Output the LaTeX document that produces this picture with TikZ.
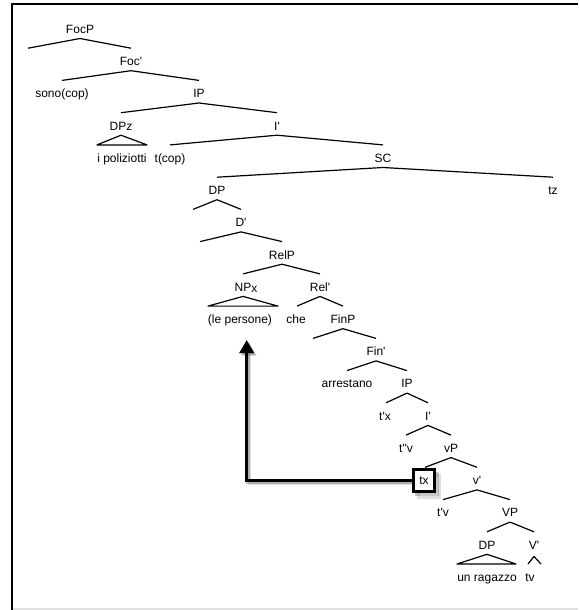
\documentclass[tikz,border=0pt]{standalone}
\usepackage{fontspec}
\setmainfont{Liberation Sans}
\usetikzlibrary{arrows.meta}
\begin{document}
\begin{tikzpicture}[x=1pt,y=-1pt,
  lbl/.style={anchor=base,inner sep=0pt,font=\fontsize{12}{14}\selectfont},
  br/.style={line width=1.2pt,line join=round},
  tracebox/.style={lbl,anchor=center,draw,line width=3pt,minimum width=20.5pt,minimum height=21.5pt},
  mv/.style={line width=3.5pt,-{Triangle[width=14pt,length=13pt]}},
  shadowA/.style={draw=black,opacity=.22,transform canvas={shift={(1.5pt,-1.8pt)}}},
  shadowB/.style={draw=black,opacity=.12,transform canvas={shift={(2.6pt,-3pt)}}}]
\useasboundingbox (0,0) rectangle (578,610);
\fill[white] (0,0) rectangle (578,610);
% frame
\draw[line width=2.4pt] (11,4) -- (578,4);
\draw[line width=2pt] (12,3) -- (12,610);
\draw[line width=1.5pt,black!12] (13,609) -- (578,609);

% labels (baseline = level centre + 4.3)
\node[lbl] (focp)     at (80,33.3)   {FocP};
\node[lbl] (focbar)   at (131,65.5)  {Foc\textquotesingle};
\node[lbl] (sono)     at (62,97.8)   {sono(cop)};
\node[lbl] (ipA)      at (199,97.8)  {IP};
\node[lbl] (dpz)      at (121,130)   {DPz};
\node[lbl] (ibarA)    at (277,130)   {I\textquotesingle};
\node[lbl] (poliz)    at (122,162.3) {i poliziotti};
\node[lbl] (tcop)     at (170,162.3) {t(cop)};
\node[lbl] (sc)       at (383,162.3) {SC};
\node[lbl] (dpA)      at (217,194.5) {DP};
\node[lbl] (tz)       at (553,194.5) {tz};
\node[lbl] (dbar)     at (241,226.7) {D\textquotesingle};
\node[lbl] (relp)     at (282,259)   {RelP};
\node[lbl] (npx)      at (246,291.2) {NP\raisebox{-1.5pt}{x}};
\node[lbl] (relbar)   at (320,291.2) {Rel\textquotesingle};
\node[lbl] (persone)  at (240,323.5) {(le persone)};
\node[lbl] (che)      at (296,323.5) {che};
\node[lbl] (finp)     at (343,323.5) {FinP};
\node[lbl] (finbar)   at (376,355.7) {Fin\textquotesingle};
\node[lbl] (arrest)   at (347,387.9) {arrestano};
\node[lbl] (ipB)      at (407,387.9) {IP};
\node[lbl] (tpx)      at (385,420.2) {t\textquotesingle x};
\node[lbl] (ibarB)    at (428,420.2) {I\textquotesingle};
\node[lbl] (tppv)     at (406,452.4) {t\textquotesingle\textquotesingle v};
\node[lbl] (vp)       at (451,452.4) {vP};
\node[lbl] (vbar)     at (477,484.7) {v\textquotesingle};
\node[lbl] (tpv)      at (443,516.9) {t\textquotesingle v};
\node[lbl] (VP)       at (510,516.9) {VP};
\node[lbl] (dpB)      at (487,549.1) {DP};
\node[lbl] (Vbar)     at (534,549.1) {V\textquotesingle};
\node[lbl] (ragazzo)  at (487,581.4) {un ragazzo};
\node[lbl] (tv)       at (530,581.4) {tv};

% branches
\draw[br] (28,48.2)  -- (80,38.5)   -- (131,48.2);
\draw[br] (62,80.4)  -- (131,70.7)  -- (199,80.4);
\draw[br] (121,112.7)-- (199,103)   -- (277,112.7);
\draw[br] (97,144.9) -- (121,135.2) -- (147,144.9) -- cycle;
\draw[br] (170,144.9)-- (277,135.2) -- (383,144.9);
\draw[br] (217,177.2)-- (383,167.5) -- (553,177.2);
\draw[br] (193,209.4)-- (217,199.7) -- (241,209.4);
\draw[br] (200,241.6)-- (241,231.9) -- (282,241.6);
\draw[br] (243,273.9)-- (282,264.2) -- (320,273.9);
\draw[br] (208,306.1)-- (243,296.4) -- (278,306.1) -- cycle;
\draw[br] (297,306.1)-- (320,296.4) -- (343,306.1);
\draw[br] (313,338.4)-- (343,328.7) -- (376,338.4);
\draw[br] (347,370.6)-- (376,360.9) -- (407,370.6);
\draw[br] (386,402.8)-- (407,393.1) -- (428,402.8);
\draw[br] (406,435.1)-- (428,425.4) -- (451,435.1);
\draw[br] (425,467.3)-- (451,457.6) -- (477,467.3);
\draw[br] (443,499.6)-- (477,489.9) -- (510,499.6);
\draw[br] (487,531.8)-- (510,522.1) -- (534,531.8);
\draw[br] (457,564)  -- (487,554.3) -- (516,564) -- cycle;
\draw[br] (528,564)  -- (534,556.5) -- (541,564);

% movement of the relative head
\coordinate (tip) at (246.7,340);
\node[tracebox,shadowB] at (424,480.4) {\phantom{tx}};
\node[tracebox,shadowA] at (424,480.4) {\phantom{tx}};
\node[tracebox] (tx) at (424,480.4) {tx};
\draw[mv,shadowB] (tx.west) -| (tip);
\draw[mv,shadowA] (tx.west) -| (tip);
\draw[mv] (tx.west) -| (tip);
\node[tracebox,fill=white] at (tx) {tx};
\end{tikzpicture}
\end{document}
